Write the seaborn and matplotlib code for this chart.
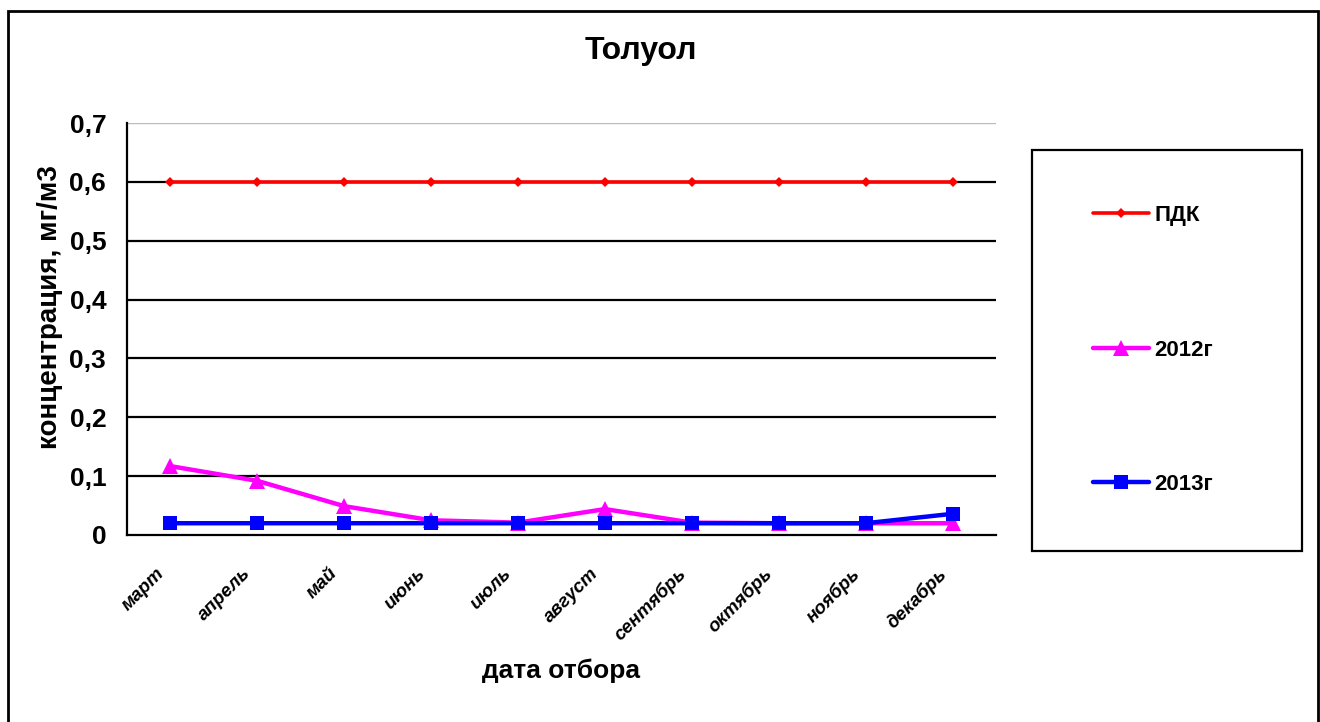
import numpy as np
import pandas as pd
import matplotlib
matplotlib.use("Agg")
import matplotlib.pyplot as plt
import matplotlib.transforms as mtransforms
import seaborn as sns
from matplotlib.patches import Rectangle
from matplotlib.ticker import FixedLocator, FuncFormatter, NullFormatter

months = ['март', 'апрель', 'май', 'июнь', 'июль', 'август',
          'сентябрь', 'октябрь', 'ноябрь', 'декабрь']
pdk = [0.6, 0.6, 0.6, 0.6, 0.6, 0.6, 0.6, 0.6, 0.6, 0.6]
y2012 = [0.117, 0.092, 0.049, 0.025, 0.021, 0.044, 0.021, 0.02, 0.02, 0.02]
y2013 = [0.02, 0.02, 0.02, 0.02, 0.02, 0.02, 0.02, 0.02, 0.02, 0.036]

sns.set_style("white")
plt.rcParams['font.family'] = ['Liberation Sans', 'DejaVu Sans']
plt.rcParams['font.weight'] = 'bold'
plt.rcParams['text.color'] = 'black'
plt.rcParams['xtick.color'] = 'black'
plt.rcParams['ytick.color'] = 'black'
plt.rcParams['axes.labelcolor'] = 'black'

df = pd.DataFrame({'idx': np.arange(len(months)), 'ПДК': pdk, '2012г': y2012, '2013г': y2013})

fig = plt.figure(figsize=(13.2, 7.22), dpi=100)
ax = fig.add_axes([127 / 1320, 1 - 535 / 722, (996 - 127) / 1320, (535 - 123) / 722])

# grid lines
for v in [0.1, 0.2, 0.3, 0.4, 0.5, 0.6]:
    ax.axhline(v, color='black', lw=1.6, zorder=1)
ax.axhline(0.7, color='#bbbbbb', lw=1.0, zorder=1)

sns.lineplot(data=df, x='idx', y='ПДК', ax=ax, color='#ff0000', lw=2.6,
             marker='D', markersize=5, markeredgewidth=0, label='ПДК', zorder=3)
sns.lineplot(data=df, x='idx', y='2012г', ax=ax, color='#ff00ff', lw=3.2,
             marker='^', markersize=11, markeredgewidth=0, label='2012г', zorder=3)
sns.lineplot(data=df, x='idx', y='2013г', ax=ax, color='#0000ff', lw=3.2,
             marker='s', markersize=10, markeredgewidth=0, label='2013г', zorder=4)

ax.set_xlim(-0.5, len(months) - 0.5)
ax.set_ylim(0, 0.7)
ax.yaxis.set_major_locator(FixedLocator([0, 0.1, 0.2, 0.3, 0.4, 0.5, 0.6, 0.7]))
ax.yaxis.set_major_formatter(FuncFormatter(lambda v, p: '0' if v == 0 else f'{v:.1f}'.replace('.', ',')))
ax.xaxis.set_major_locator(FixedLocator(np.arange(-0.5, len(months), 1.0)))
ax.xaxis.set_major_formatter(NullFormatter())
ax.tick_params(axis='x', which='major', length=7, width=1.3, direction='out', color='black')
ax.tick_params(axis='y', length=7, width=1.3, direction='out', color='black', labelsize=19, pad=8)
for lbl in ax.get_yticklabels():
    lbl.set_fontweight('bold')

# month labels, rotated, at category centres
offset = mtransforms.ScaledTranslation(-15 / 100, -30 / 100, fig.dpi_scale_trans)
for i, m in enumerate(months):
    ax.text(i, 0, m, transform=ax.get_xaxis_transform() + offset, rotation=45,
            ha='right', va='top', rotation_mode='anchor',
            fontsize=13.5, fontstyle='italic', fontweight='bold')

for s in ['top', 'right']:
    ax.spines[s].set_visible(False)
for s in ['left', 'bottom']:
    ax.spines[s].set_color('black')
    ax.spines[s].set_linewidth(1.6)

ax.set_xlabel('дата отбора', fontsize=19, fontweight='bold')
ax.xaxis.set_label_coords(0.5, -0.30)
ax.set_ylabel('концентрация, мг/м3', fontsize=20, fontweight='bold')
ax.yaxis.set_label_coords(-0.074, 0.553)
fig.text(641 / 1320, 1 - 51 / 722, 'Толуол', ha='center', va='center', fontsize=23, fontweight='bold')

# legend box
fig.patches.append(Rectangle((1032 / 1320, 1 - 551 / 722), 270 / 1320, 401 / 722,
                             transform=fig.transFigure, fill=False, ec='black', lw=1.6))
ax.legend(loc='center left', bbox_to_anchor=(1082 / 1320, 1 - 350 / 722), bbox_transform=fig.transFigure,
          frameon=False, borderpad=0, labelspacing=5.1, handlelength=2.5, handletextpad=0.27,
          prop={'weight': 'bold', 'size': 16})

# outer border
fig.patches.append(Rectangle((8 / 1320, -0.05), 1310 / 1320, 1.05 - 11 / 722,
                             transform=fig.transFigure, fill=False, ec='black', lw=2))

fig.savefig('out.png', dpi=100)
